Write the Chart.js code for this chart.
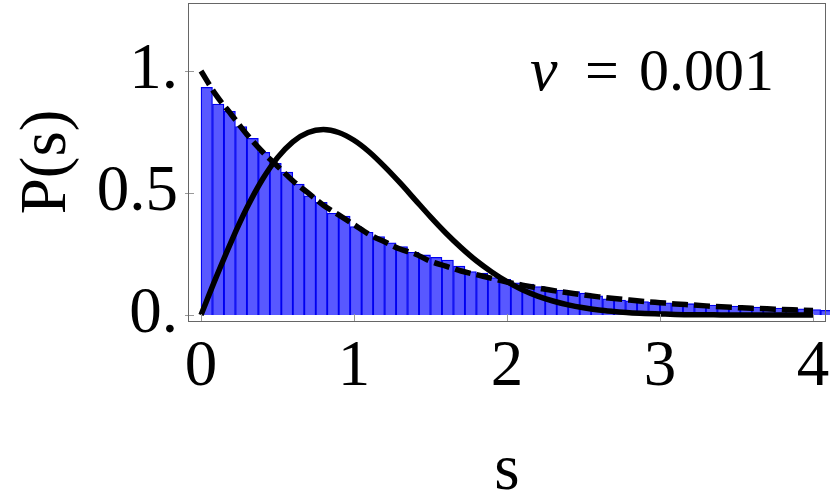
<!DOCTYPE html>
<html>
<head>
<meta charset="utf-8">
<script src="https://cdn.jsdelivr.net/npm/chart.js@4.4.1/dist/chart.umd.min.js"></script>
<style>
  html, body { margin: 0; padding: 0; background: #fff; }
  #wrap { width: 830px; height: 501px; }
</style>
</head>
<body>
<div id="wrap"><canvas id="chart" width="830" height="501"></canvas></div>
<script>
// histogram bin centres (bin width 0.075) and heights
const binCenters = [0.0375, 0.1125, 0.1875, 0.2625, 0.3375, 0.4125, 0.4875, 0.5625, 0.6375, 0.7125,
    0.7875, 0.8625, 0.9375, 1.0125, 1.0875, 1.1625, 1.2375, 1.3125, 1.3875, 1.4625,
    1.5375, 1.6125, 1.6875, 1.7625, 1.8375, 1.9125, 1.9875, 2.0625, 2.1375, 2.2125,
    2.2875, 2.3625, 2.4375, 2.5125, 2.5875, 2.6625, 2.7375, 2.8125, 2.8875, 2.9625,
    3.0375, 3.1125, 3.1875, 3.2625, 3.3375, 3.4125, 3.4875, 3.5625, 3.6375, 3.7125,
    3.7875, 3.8625, 3.9375, 4.0125, 4.0875];
const binHeights = [0.933, 0.865, 0.835, 0.772, 0.724, 0.667, 0.622, 0.586, 0.536, 0.488,
    0.462, 0.417, 0.405, 0.362, 0.339, 0.321, 0.296, 0.280, 0.257, 0.246,
    0.236, 0.225, 0.200, 0.178, 0.171, 0.153, 0.146, 0.132, 0.126, 0.116,
    0.107, 0.102, 0.096, 0.089, 0.078, 0.066, 0.061, 0.058, 0.055, 0.052,
    0.050, 0.048, 0.046, 0.044, 0.040, 0.038, 0.036, 0.034, 0.032, 0.030,
    0.028, 0.027, 0.025, 0.022, 0.019];

// curves read at s = 0, 0.1, ... 4
const sValues = [0, 0.1, 0.2, 0.3, 0.4, 0.5, 0.6, 0.7, 0.8, 0.9,
    1.0, 1.1, 1.2, 1.3, 1.4, 1.5, 1.6, 1.7, 1.8, 1.9,
    2.0, 2.1, 2.2, 2.3, 2.4, 2.5, 2.6, 2.7, 2.8, 2.9,
    3.0, 3.1, 3.2, 3.3, 3.4, 3.5, 3.6, 3.7, 3.8, 3.9, 4.0];
const poissonCurve = [1.00, 0.90, 0.82, 0.74, 0.67, 0.61, 0.55, 0.50, 0.45, 0.41,
    0.37, 0.33, 0.30, 0.27, 0.25, 0.22, 0.20, 0.18, 0.165, 0.15,
    0.135, 0.122, 0.111, 0.100, 0.091, 0.082, 0.074, 0.067, 0.061, 0.055,
    0.050, 0.045, 0.041, 0.037, 0.033, 0.030, 0.027, 0.025, 0.022, 0.020, 0.018];
const wignerCurve = [0, 0.156, 0.304, 0.439, 0.554, 0.645, 0.710, 0.748, 0.760, 0.748,
    0.716, 0.668, 0.608, 0.542, 0.472, 0.402, 0.336, 0.276, 0.222, 0.176,
    0.136, 0.103, 0.077, 0.057, 0.041, 0.029, 0.020, 0.014, 0.009, 0.006,
    0.004, 0.002, 0.001, 0.001, 0, 0, 0, 0, 0, 0, 0];

const xTicks = [0, 1, 2, 3, 4];
const yTicks = [0, 0.5, 1];
const yTickLabels = ["0.", "0.5", "1."];
const annotationText = "0.001";

const serif = "'Liberation Serif', 'Times New Roman', serif";

// frame, inward tick marks and the nu label
const framePlugin = {
    id: 'frame',
    afterDatasetsDraw(chart) {
        const ctx = chart.ctx;
        const a = chart.chartArea;
        const xs = chart.scales.x, ys = chart.scales.y;
        ctx.save();
        ctx.strokeStyle = '#999';
        ctx.lineWidth = 1;
        ctx.beginPath();
        xTicks.forEach(v => {
            const px = Math.round(xs.getPixelForValue(v)) + 0.5;
            ctx.moveTo(px, a.bottom);
            ctx.lineTo(px, a.bottom - 7);
        });
        yTicks.forEach(v => {
            const py = Math.round(ys.getPixelForValue(v)) + 0.5;
            ctx.moveTo(a.left - 3, py);
            ctx.lineTo(a.left + 6, py);
        });
        ctx.stroke();
        ctx.strokeStyle = '#666';
        ctx.strokeRect(a.left + 0.5, a.top + 0.5, a.right - a.left - 1, a.bottom - a.top);

        ctx.fillStyle = '#000';
        ctx.textBaseline = 'alphabetic';
        ctx.textAlign = 'left';
        ctx.font = 'italic 62px ' + serif;
        ctx.fillText('\u03bd', 530, 90);
        ctx.font = '60px ' + serif;
        ctx.fillText('=', 585, 90);
        ctx.fillText(annotationText, 639, 90);
        ctx.restore();
    }
};

const ctx = document.getElementById('chart').getContext('2d');
const chart = new Chart(ctx, {
    type: 'bar',
    data: {
        datasets: [
            {
                type: 'line',
                label: 'Wigner',
                data: sValues.map((s, i) => ({x: s, y: wignerCurve[i]})),
                borderColor: '#000',
                borderWidth: 5.5,
                pointRadius: 0,
                cubicInterpolationMode: 'monotone',
                borderJoinStyle: 'round',
                fill: false,
                order: 1
            },
            {
                type: 'line',
                label: 'Poisson',
                data: sValues.map((s, i) => ({x: s, y: poissonCurve[i]})),
                borderColor: '#000',
                borderWidth: 5.5,
                borderDash: [16, 6],
                borderCapStyle: 'butt',
                pointRadius: 0,
                cubicInterpolationMode: 'monotone',
                fill: false,
                order: 2
            },
            {
                type: 'bar',
                label: 'histogram',
                data: binCenters.map((c, i) => ({x: c, y: binHeights[i]})),
                backgroundColor: 'rgb(88, 88, 255)',
                borderColor: 'rgb(0, 0, 240)',
                borderWidth: 1.3,
                barPercentage: 1.0,
                categoryPercentage: 1.0,
                grouped: false,
                clip: {left: 0, top: 0, right: 6, bottom: 0},
                order: 3
            }
        ]
    },
    options: {
        responsive: false,
        animation: false,
        devicePixelRatio: 1,
        layout: {
            padding: {top: 3, right: 4, left: 0, bottom: 0}
        },
        plugins: {
            legend: {display: false},
            tooltip: {enabled: false}
        },
        scales: {
            x: {
                type: 'linear',
                offset: false,
                min: -0.085,
                max: 4.085,
                grid: {display: false, drawTicks: false},
                border: {display: false},
                afterBuildTicks: (scale) => {
                    scale.ticks = xTicks.map(v => ({value: v}));
                },
                afterFit: (scale) => {
                    scale.height = 180;
                    scale.paddingLeft = 0;
                    scale.paddingRight = 0;
                },
                ticks: {
                    autoSkip: false,
                    maxRotation: 0,
                    padding: 8,
                    color: '#000',
                    font: {family: serif, size: 65},
                    callback: (v) => String(v)
                },
                title: {
                    display: true,
                    text: 's',
                    color: '#000',
                    padding: {top: 0, bottom: 0},
                    font: {family: serif, size: 65, lineHeight: 0.9}
                }
            },
            y: {
                min: -0.025,
                max: 1.279,
                grid: {display: false, drawTicks: false},
                border: {display: false},
                afterBuildTicks: (scale) => {
                    scale.ticks = yTicks.map(v => ({value: v}));
                },
                afterFit: (scale) => {
                    scale.width = 188;
                    scale.paddingTop = 0;
                    scale.paddingBottom = 0;
                },
                ticks: {
                    autoSkip: false,
                    padding: 10,
                    color: '#000',
                    font: {family: serif, size: 65},
                    callback: (v) => yTickLabels[yTicks.indexOf(v)]
                },
                title: {
                    display: true,
                    text: 'P(s)',
                    color: '#000',
                    padding: {top: 9, bottom: 0},
                    font: {family: serif, size: 65}
                }
            }
        }
    },
    plugins: [framePlugin]
});
</script>
</body>
</html>
